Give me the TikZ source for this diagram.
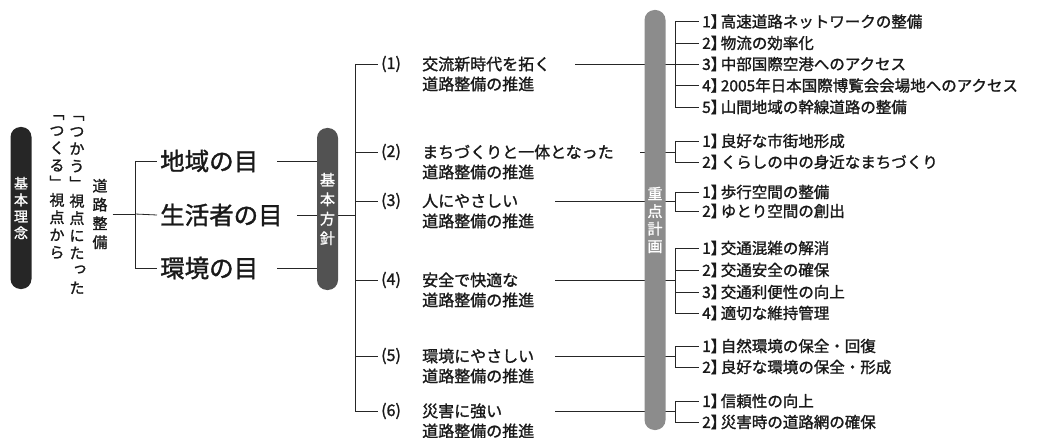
\documentclass[tikz,border=0pt]{standalone}
\usepackage{fontspec}
\setmainfont{Noto Sans CJK JP}[RawFeature={embolden=1.4}]
\newcommand\nb[1]{#1】\kern-5.5pt}
\tikzset{
  conn/.style={draw=black!85, line width=0.8pt},
  pillbox/.style={draw=none, rounded corners=10pt, minimum width=21pt, inner sep=0pt, text=white, align=center},
  vtext/.style={inner sep=0pt, align=center, text=black!90},
  eye/.style={inner sep=3pt, anchor=west, text=black!90, font=\fontsize{24.5}{28}\selectfont},
  numlab/.style={inner sep=3pt, anchor=west, text=black!90, font=\fontsize{16}{19}\selectfont},
  goal/.style={inner sep=0pt, anchor=west, text=black!90, font=\fontsize{16}{19}\selectfont},
  item/.style={inner sep=3pt, anchor=west, text=black!90, font=\fontsize{15.5}{18}\selectfont},
}
\begin{document}
\begin{tikzpicture}[x=1pt,y=-1pt]
\useasboundingbox (0,0) rectangle (1054,438);

% ---- left: basic idea pill and vertical texts
\node[pillbox, fill=black!85, minimum height=162pt, font=\fontsize{14}{16.5}\selectfont] (kr) at (21,208) {基\\本\\理\\念};
\node[vtext, font=\fontsize{15}{17.4}\selectfont] (colA) at (77,205) {﹁\\つ\\か\\う\\﹂\\視\\点\\に\\た\\\raisebox{3pt}{\kern3ptっ\kern-3pt}\\た};
\node[vtext, font=\fontsize{15}{17.4}\selectfont] (colB) at (57,187) {﹁\\つ\\く\\る\\﹂\\視\\点\\か\\ら};
\node[vtext, font=\fontsize{15}{18.8}\selectfont] (colC) at (100,214) {道\\路\\整\\備};

% ---- eyes
\coordinate (b1) at (135,214);
\coordinate (b1t) at (135,161);
\coordinate (b1b) at (135,268);
\node[eye] (e1) at (157,161) {地域の目};
\node[eye] (e2) at (157,215) {生活者の目};
\node[eye] (e3) at (157,268) {環境の目};
\draw[conn] ([xshift=5pt]colC.east) -- (b1);
\draw[conn] (b1t) -- (b1b);
\draw[conn] (b1t) -- (e1.west);
\draw[conn] (b1) -- (e2.west);
\draw[conn] (b1b) -- (e3.west);

% ---- main bracket coordinates
\coordinate (m1) at (355,64);
\coordinate (m2) at (355,152);
\coordinate (m3) at (355,201);
\coordinate (m4) at (355,280);
\coordinate (m5) at (355,356);
\coordinate (m6) at (355,411);
\coordinate (mE) at (355,215);

\draw[conn, shorten <=11pt] (e2.east) -- (mE);

% ---- basic policy pill
\node[pillbox, fill=black!68, minimum height=162pt, font=\fontsize{15}{19.5}\selectfont] (kh) at (327.5,209) {基\\本\\方\\針};
\draw[conn, shorten <=16pt] (e1.east) -- (kh.west |- e1.east);
\draw[conn, shorten <=16pt] (e3.east) -- (kh.west |- e3.east);

\draw[conn] (m1) -- (m6);

% ---- six policies
\node[numlab] (l1) at (378,64) {(1)};
\node[numlab] (l2) at (378,152) {(2)};
\node[numlab] (l3) at (378,201) {(3)};
\node[numlab] (l4) at (378,280) {(4)};
\node[numlab] (l5) at (378,356) {(5)};
\node[numlab] (l6) at (378,411) {(6)};
\foreach \i in {1,...,6} { \draw[conn] (m\i) -- (l\i.west); }

\node[goal] (g1a) at (422,64) {交流新時代を拓く};
\node[goal] (g1b) at (422,84) {道路整備の推進};
\node[goal] (g2a) at (422,152) {まちづくりと一体となった};
\node[goal] (g2b) at (422,172) {道路整備の推進};
\node[goal] (g3a) at (422,201) {人にやさしい};
\node[goal] (g3b) at (422,221) {道路整備の推進};
\node[goal] (g4a) at (422,280) {安全で快適な};
\node[goal] (g4b) at (422,300) {道路整備の推進};
\node[goal] (g5a) at (422,356) {環境にやさしい};
\node[goal] (g5b) at (422,376) {道路整備の推進};
\node[goal] (g6a) at (422,411) {災害に強い};
\node[goal] (g6b) at (422,431) {道路整備の推進};

% ---- lines to focus plan (pass behind pill)
\coordinate (s1) at (575,64);
\coordinate (s2) at (640,152);
\coordinate (s3) at (555,201);
\coordinate (s4) at (555,280);
\coordinate (s5) at (555,356);
\coordinate (s6) at (555,411);
\coordinate (r1) at (675,64);
\coordinate (r2) at (675,152);
\coordinate (r3) at (675,201);
\coordinate (r4) at (675,280);
\coordinate (r5) at (675,356);
\coordinate (r6) at (675,411);
\foreach \i in {1,...,6} { \draw[conn] (s\i) -- (r\i); }

\node[pillbox, fill=black!45, minimum height=420pt, font=\fontsize{15}{17.5}\selectfont] (jt) at (655,220) {重\\点\\計\\画};

% ---- right items
% group 1
\node[item] (i11) at (699,21.5) {\nb{1}高速道路ネットワークの整備};
\node[item] (i12) at (699,43) {\nb{2}物流の効率化};
\node[item] (i13) at (699,64) {\nb{3}中部国際空港へのアクセス};
\node[item] (i14) at (699,85.5) {\nb{4}2005年日本国際博覧会会場地へのアクセス};
\node[item] (i15) at (699,107) {\nb{5}山間地域の幹線道路の整備};
\draw[conn] (r1 |- i11.west) -- (r1 |- i15.west);
\foreach \j in {1,...,5} { \draw[conn] (r1 |- i1\j.west) -- (i1\j.west); }
% group 2
\node[item] (i21) at (699,141) {\nb{1}良好な市街地形成};
\node[item] (i22) at (699,162) {\nb{2}くらしの中の身近なまちづくり};
\draw[conn] (r2 |- i21.west) -- (r2 |- i22.west);
\foreach \j in {1,2} { \draw[conn] (r2 |- i2\j.west) -- (i2\j.west); }
% group 3
\node[item] (i31) at (699,192) {\nb{1}歩行空間の整備};
\node[item] (i32) at (699,211) {\nb{2}ゆとり空間の創出};
\draw[conn] (r3 |- i31.west) -- (r3 |- i32.west);
\foreach \j in {1,2} { \draw[conn] (r3 |- i3\j.west) -- (i3\j.west); }
% group 4
\node[item] (i41) at (699,248) {\nb{1}交通混雑の解消};
\node[item] (i42) at (699,270) {\nb{2}交通安全の確保};
\node[item] (i43) at (699,292) {\nb{3}交通利便性の向上};
\node[item] (i44) at (699,313) {\nb{4}適切な維持管理};
\draw[conn] (r4 |- i41.west) -- (r4 |- i44.west);
\foreach \j in {1,...,4} { \draw[conn] (r4 |- i4\j.west) -- (i4\j.west); }
% group 5
\node[item] (i51) at (699,346) {\nb{1}自然環境の保全・回復};
\node[item] (i52) at (699,367) {\nb{2}良好な環境の保全・形成};
\draw[conn] (r5 |- i51.west) -- (r5 |- i52.west);
\foreach \j in {1,2} { \draw[conn] (r5 |- i5\j.west) -- (i5\j.west); }
% group 6
\node[item] (i61) at (699,401) {\nb{1}信頼性の向上};
\node[item] (i62) at (699,422) {\nb{2}災害時の道路網の確保};
\draw[conn] (r6 |- i61.west) -- (r6 |- i62.west);
\foreach \j in {1,2} { \draw[conn] (r6 |- i6\j.west) -- (i6\j.west); }
\end{tikzpicture}
\end{document}
